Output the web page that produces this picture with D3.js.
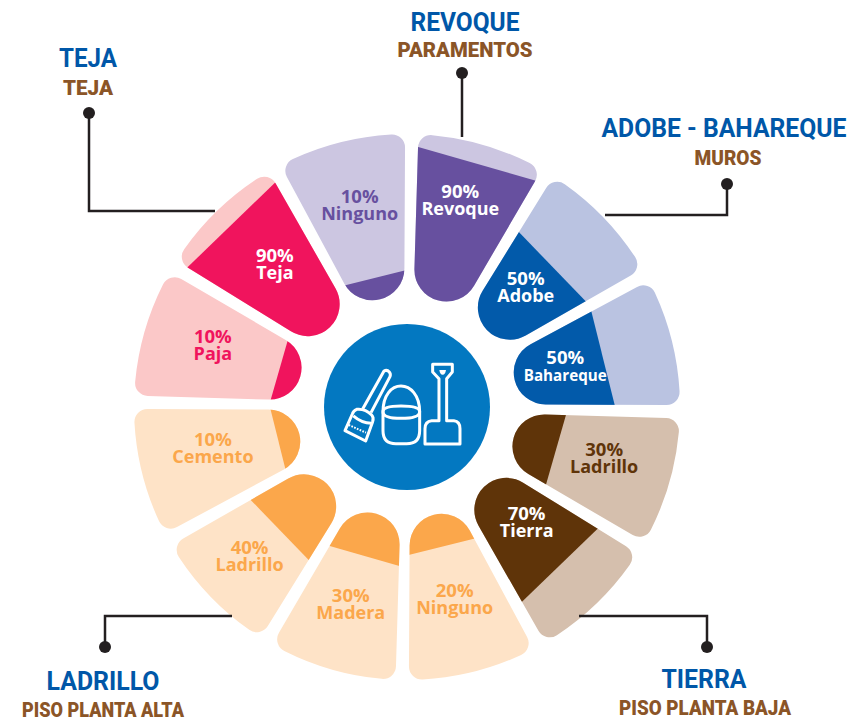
<!DOCTYPE html>
<html>
<head>
<meta charset="utf-8">
<script src="https://cdn.jsdelivr.net/npm/d3@7"></script>
<style>
  html, body { margin: 0; padding: 0; background: #fff; }
  svg { display: block; }
</style>
</head>
<body>
<div id="chart"></div>
<script>
// Petals clockwise, starting at twelve o'clock
const petalLabels = ["Revoque", "Adobe", "Bahareque", "Ladrillo", "Tierra", "Ninguno",
                     "Madera", "Ladrillo", "Cemento", "Paja", "Teja", "Ninguno"];
const petalValues = [90, 50, 50, 30, 70, 20, 30, 40, 10, 10, 90, 10];
const petalGroups = ["REVOQUE", "ADOBE", "ADOBE", "TIERRA", "TIERRA", "LADRILLO",
                     "LADRILLO", "LADRILLO", "LADRILLO", "TEJA", "TEJA", "REVOQUE"];

const groupNames = ["REVOQUE", "ADOBE", "TIERRA", "LADRILLO", "TEJA"];
const darkColors = ["#67509f", "#025aaa", "#5f3409", "#fba74b", "#f0145d"];
const lightColors = ["#ccc6e1", "#bac3e1", "#d5bfad", "#fee3c7", "#fbc8c8"];

const calloutTitles = ["REVOQUE", "ADOBE - BAHAREQUE", "TIERRA", "LADRILLO", "TEJA"];
const calloutSubtitles = ["PARAMENTOS", "MUROS", "PISO PLANTA BAJA", "PISO PLANTA ALTA", "TEJA"];

const width = 852, height = 722;
const cx = 407, cy = 407;
const outerR = 273, tipCenterR = 143, tipR = 32, halfAngle = 14.3, cornerR = 13;

// Where each label sits: distance from the centre of the wheel, then a small nudge
const labelRadius = [215, 165, 161, 203, 165, 197, 204, 216, 199, 203, 196, 208];
const labelShift = [[-6, 1], [0, -4], [2, -1], [2, -4], [5, -2.5], [0, 2],
                    [0, 2], [-2, 0], [-1, -6], [1, -5], [4, -1], [3, 1]];

const svg = d3.select("#chart").append("svg")
    .attr("width", width)
    .attr("height", height);

const angle = d3.scaleBand()
    .domain(d3.range(petalValues.length))
    .range([1, 361]);

const radius = d3.scaleLinear()
    .domain([10, 30, 40, 50, 70, 90])
    .range([133, 155, 177, 202, 220, 253]);

const darkColor = d3.scaleOrdinal(groupNames, darkColors);
const lightColor = d3.scaleOrdinal(groupNames, lightColors);

function petalPath() {
    // One petal pointing up: round tip near the hub, straight sides, arc on the outside
    const half = halfAngle * Math.PI / 180;
    const sin = Math.sin(half), cos = Math.cos(half);
    const apex = tipCenterR - tipR / sin;

    // Fillet between the right side and the outer arc
    const bx = cornerR * -cos, by = apex + cornerR * sin;
    const dot = bx * sin + by * cos;
    const s = -dot + Math.sqrt(dot * dot - (bx * bx + by * by) + (outerR - cornerR) ** 2);
    const fx = bx + s * sin, fy = by + s * cos;
    const arcAngle = Math.atan2(-fy, fx);

    const p = d3.path();
    p.arc(0, -tipCenterR, tipR, Math.PI - half, half, true);
    p.arc(fx, -fy, cornerR, half, arcAngle, true);
    p.arc(0, 0, outerR, arcAngle, -Math.PI - arcAngle, true);
    p.arc(-fx, -fy, cornerR, -Math.PI - arcAngle, Math.PI - half - 2 * Math.PI, true);
    p.closePath();
    return p.toString();
}

const wheel = svg.append("g")
    .attr("transform", `translate(${cx},${cy})`);

const petal = wheel.selectAll("g.petal")
    .data(petalValues)
    .enter()
    .append("g")
    .attr("class", "petal")
    .attr("transform", (d, i) => `rotate(${angle(i) + angle.bandwidth() / 2})`);

const shape = petalPath();

petal.append("clipPath")
    .attr("id", (d, i) => "fill-" + i)
    .append("rect")
    .attr("x", -outerR)
    .attr("width", 2 * outerR)
    .attr("y", d => -radius(d))
    .attr("height", d => radius(d));

petal.append("path")
    .attr("d", shape)
    .attr("fill", (d, i) => lightColor(petalGroups[i]));

petal.append("path")
    .attr("d", shape)
    .attr("clip-path", (d, i) => `url(#fill-${i})`)
    .attr("fill", (d, i) => darkColor(petalGroups[i]));

// Labels stay upright
const label = wheel.selectAll("text.label")
    .data(petalValues)
    .enter()
    .append("text")
    .attr("class", "label")
    .attr("font-family", "'Open Sans'")
    .attr("font-weight", 700)
    .attr("text-anchor", "middle")
    .attr("font-size", (d, i) => petalLabels[i] === "Bahareque" ? 15.2 : 18)
    .attr("fill", (d, i) => d >= 50 ? "#fff" : darkColor(petalGroups[i]))
    .attr("transform", (d, i) => {
        const a = (angle(i) + angle.bandwidth() / 2) * Math.PI / 180;
        const x = labelRadius[i] * Math.sin(a) + labelShift[i][0];
        const y = -labelRadius[i] * Math.cos(a) + labelShift[i][1];
        return `translate(${x},${y})`;
    });

label.append("tspan")
    .attr("x", 0)
    .attr("y", -3)
    .attr("font-size", 18.5)
    .text(d => d + "%");

label.append("tspan")
    .attr("x", 0)
    .attr("y", 14)
    .text((d, i) => petalLabels[i]);

// Hub with the tools icon
svg.append("circle")
    .attr("cx", cx)
    .attr("cy", cy)
    .attr("r", 83)
    .attr("fill", "#0378c1");

const icon = svg.append("g")
    .attr("transform", "translate(310,310) scale(0.3333)")
    .attr("fill", "none")
    .attr("stroke", "#fff")
    .attr("stroke-width", 9)
    .attr("stroke-linejoin", "round");

// broom
icon.append("path").attr("d", "M158,297 L222,183 Q231,178 238,186 Q243,192 240,200 L183,308");
icon.append("path").attr("d", "M140,298 Q165,295 185,315 Q192,322 188,335 L167,393 L105,362 L127,312 Q130,302 140,298 Z");
icon.append("path").attr("d", "M130,318 Q155,340 184,340");
icon.append("path").attr("d", "M116,345 L168,368").attr("stroke-dasharray", "5,4").attr("stroke-width", 6);
// bucket
icon.append("path").attr("d", "M219,305 C219,255 245,228 273,228 C301,228 329,255 329,305");
icon.append("path").attr("d", "M219,305 Q219,288 273,288 Q329,288 329,305 Q329,325 273,325 Q219,325 219,305 Z");
icon.append("path").attr("d", "M219,305 L219,362 Q219,401 258,401 L290,401 Q329,401 329,362 L329,305");
// shovel
icon.append("path").attr("d", "M368,163 L427,163 L427,186 L410,206 L410,332 L432,332 Q450,334 450,356 L450,402 L345,402 L345,356 Q345,334 365,332 L387,332 L387,206 L368,186 Z");
icon.append("path").attr("d", "M388,180 L408,180 Q406,194 398,194 Q390,194 388,180 Z").attr("fill", "#fff").attr("stroke", "none");

// Callouts: heading, subheading and the leader line down to the wheel
const calloutX = [465, 724, 704, 103, 88];
const titleY = [31, 137, 688, 690, 67];
const subtitleX = [465, 728, 705, 103, 88];
const subtitleY = [57, 165, 715, 717, 95];
const titleWidth = [109, 245, 85, 113, 58];
const subtitleWidth = [135, 67, 172, 162, 50];
const leaders = [
    [[462, 73], [462, 137]],
    [[727, 184], [727, 215], [605, 215]],
    [[707, 647], [707, 616], [579, 616]],
    [[105, 647], [105, 616], [232, 616]],
    [[89, 113], [89, 211], [215, 211]]
];

svg.selectAll("text.title")
    .data(calloutTitles)
    .enter()
    .append("text")
    .attr("class", "title")
    .attr("font-family", "Roboto")
    .attr("font-weight", 700)
    .attr("font-size", 25)
    .attr("fill", "#0057a8")
    .attr("text-anchor", "middle")
    .attr("x", (d, i) => calloutX[i])
    .attr("y", (d, i) => titleY[i])
    .attr("textLength", (d, i) => titleWidth[i])
    .attr("lengthAdjust", "spacingAndGlyphs")
    .text(d => d);

svg.selectAll("text.subtitle")
    .data(calloutSubtitles)
    .enter()
    .append("text")
    .attr("class", "subtitle")
    .attr("font-family", "Roboto")
    .attr("font-weight", 900)
    .attr("font-size", 20)
    .attr("fill", "#8b5527")
    .attr("text-anchor", "middle")
    .attr("x", (d, i) => subtitleX[i])
    .attr("y", (d, i) => subtitleY[i])
    .attr("textLength", (d, i) => subtitleWidth[i])
    .attr("lengthAdjust", "spacingAndGlyphs")
    .text(d => d);

svg.selectAll("path.leader")
    .data(leaders)
    .enter()
    .append("path")
    .attr("class", "leader")
    .attr("fill", "none")
    .attr("stroke", "#231f20")
    .attr("stroke-width", 2.5)
    .attr("d", d3.line());

svg.selectAll("circle.dot")
    .data(leaders)
    .enter()
    .append("circle")
    .attr("class", "dot")
    .attr("cx", d => d[0][0])
    .attr("cy", d => d[0][1])
    .attr("r", 6)
    .attr("fill", "#231f20");
</script>
</body>
</html>
